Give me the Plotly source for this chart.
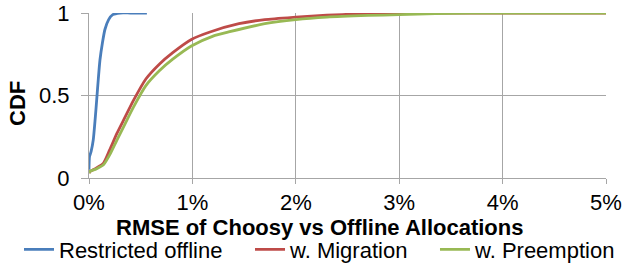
import plotly.graph_objects as go

# RMSE (%) and CDF values
blue_x = [0.0, 0.005, 0.02, 0.041, 0.06, 0.074, 0.09, 0.106, 0.13, 0.154, 0.19, 0.23, 0.3, 0.4, 0.56]
blue_y = [0.05, 0.13, 0.16, 0.23, 0.36, 0.47, 0.60, 0.715, 0.82, 0.90, 0.96, 0.99, 1.0, 1.0, 1.0]

red_x = [0.0, 0.01, 0.07, 0.14, 0.2, 0.27, 0.35, 0.43, 0.55, 0.68, 0.81, 0.99, 1.17, 1.45, 1.7, 2.0, 2.3, 2.6, 2.85, 3.2, 4.0, 5.0]
red_y = [0.03, 0.04, 0.06, 0.09, 0.17, 0.27, 0.37, 0.47, 0.60, 0.69, 0.76, 0.84, 0.885, 0.935, 0.96, 0.975, 0.987, 0.994, 0.998, 1.0, 1.0, 1.0]

green_x = [0.0, 0.01, 0.07, 0.14, 0.2, 0.27, 0.35, 0.43, 0.55, 0.68, 0.81, 0.99, 1.2, 1.35, 1.7, 2.0, 2.3, 2.7, 3.0, 3.35, 4.0, 5.0]
green_y = [0.03, 0.04, 0.055, 0.08, 0.14, 0.23, 0.33, 0.43, 0.56, 0.65, 0.72, 0.80, 0.86, 0.885, 0.935, 0.96, 0.975, 0.985, 0.99, 0.997, 1.0, 1.0]

x_ticks = [0, 1, 2, 3, 4, 5]
x_tick_labels = ["0%", "1%", "2%", "3%", "4%", "5%"]
y_ticks = [0, 0.5, 1]
y_tick_labels = ["0", "0.5", "1"]

series_names = ["Restricted offline", "w. Migration", "w. Preemption"]
series_colors = ["#4a7ebb", "#be4b48", "#98b954"]

FONT = "Liberation Sans, Arial, sans-serif"
FS = 22
GRID = "#a6a6a6"

fig = go.Figure()
data = [(blue_x, blue_y), (red_x, red_y), (green_x, green_y)]
legend_ids = ["legend", "legend2", "legend3"]
for (xs, ys), name, color, lg in zip(data, series_names, series_colors, legend_ids):
    fig.add_trace(go.Scatter(x=xs, y=ys, mode="lines", name=name, legend=lg,
                             line=dict(color=color, width=2.8, shape="spline", smoothing=0.6)))

def legend_at(xc):
    return dict(orientation="h", xref="container", yref="container",
                x=xc, xanchor="left", y=0.055, yanchor="middle",
                font=dict(size=FS, family=FONT), itemwidth=30, tracegroupgap=0,
                bgcolor="rgba(0,0,0,0)", borderwidth=0)

fig.update_layout(
    width=623, height=264,
    margin=dict(l=89, r=17, t=13, b=86, autoexpand=False),
    paper_bgcolor="white", plot_bgcolor="white",
    font=dict(family=FONT, size=FS, color="black"),
    showlegend=True,
    legend=legend_at(0.0305),
    legend2=legend_at(0.4013),
    legend3=legend_at(0.6982),
    xaxis=dict(range=[0, 5], tickvals=x_ticks, ticktext=x_tick_labels,
               showgrid=True, gridcolor=GRID, gridwidth=1,
               showline=True, linecolor=GRID, linewidth=1,
               ticks="outside", ticklen=5, tickcolor=GRID,
               zeroline=False, fixedrange=True, automargin=False,
               ticklabeloverflow="allow", tickfont=dict(size=FS)),
    yaxis=dict(range=[0, 1], tickvals=y_ticks, ticktext=y_tick_labels,
               showgrid=True, gridcolor=GRID, gridwidth=1,
               showline=True, linecolor=GRID, linewidth=1,
               ticks="outside", ticklen=7, tickcolor=GRID, ticklabelstandoff=7,
               zeroline=False, fixedrange=True, automargin=False,
               tickfont=dict(size=FS)),
    annotations=[
        dict(text="<b>RMSE of Choosy vs Offline Allocations</b>", xref="paper", yref="paper",
             x=0.445, y=-0.30, xanchor="center", yanchor="middle", showarrow=False,
             font=dict(size=FS)),
        dict(text="<b>CDF</b>", xref="paper", yref="paper", textangle=-90,
             x=-0.137, y=0.45, xanchor="center", yanchor="middle", showarrow=False,
             font=dict(size=FS)),
    ],
)

fig.write_html("out.html", config={"displayModeBar": False},
               post_script="document.body.style.margin='0';")
